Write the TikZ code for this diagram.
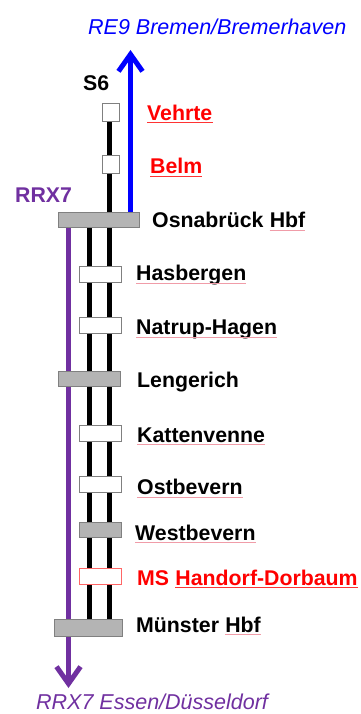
\documentclass[tikz,border=0pt]{standalone}
\usepackage{fontspec}
\setmainfont{Liberation Sans}
\usetikzlibrary{arrows.meta}
\definecolor{rrxpurple}{HTML}{7030A0}
\definecolor{reblue}{HTML}{0000FF}
\definecolor{stred}{HTML}{FF0000}
\definecolor{bargray}{HTML}{B4B4B4}
\definecolor{edgegray}{HTML}{808080}
\definecolor{ulpink}{HTML}{F09CA8}
\tikzset{
  lbl/.style={anchor=west, inner sep=0pt, text height=15.2pt, text depth=0pt, font=\bfseries\fontsize{21.3}{22}\selectfont},
  dirlbl/.style={anchor=west, inner sep=0pt, text height=15.2pt, text depth=0pt, font=\itshape\fontsize{21.5}{22}\selectfont},
  track/.style={line width=5pt, black},
  wbox/.style={draw=edgegray, line width=0.8pt, fill=white},
  gbar/.style={draw=edgegray, line width=0.8pt, fill=bargray},
  ulp/.style={color=ulpink, line width=0.9pt},
  ulr/.style={color=stred!80, line width=0.9pt},
}
\begin{document}
\begin{tikzpicture}[x=1pt,y=-1pt]
\useasboundingbox (0,0) rectangle (360,714);
% coordinates for track ends
\coordinate (s6top) at (109.5,112);
\coordinate (l2top) at (89.5,220);
\coordinate (purtop) at (68.5,220);
\coordinate (blueend) at (130.5,50);
\coordinate (purend) at (68.5,688);
% tracks
\draw[track] (s6top) -- (109.5,627);
\draw[track] (l2top) -- (89.5,627);
\draw[line width=5pt, rrxpurple, -{Straight Barb[length=17pt,width=24pt,line width=5pt]}] (purtop) -- (purend);
\draw[line width=5pt, reblue, -{Straight Barb[length=17pt,width=24pt,line width=5pt]}] (130.5,219) -- (blueend);
% S6 stations
\node[wbox, minimum width=17pt, minimum height=18pt, inner sep=0pt] (vehrte) at (110.5,112.5) {};
\node[wbox, minimum width=17pt, minimum height=18pt, inner sep=0pt] (belm) at (110.5,164.5) {};
% bars and boxes
\node[gbar, minimum width=81pt, minimum height=15pt, inner sep=0pt] (osn) at (98.5,219.5) {};
\node[wbox, minimum width=42pt, minimum height=16pt, inner sep=0pt] (hasb) at (100,274.5) {};
\node[wbox, minimum width=42pt, minimum height=16pt, inner sep=0pt] (natr) at (100,325.5) {};
\node[gbar, minimum width=62pt, minimum height=15pt, inner sep=0pt] (leng) at (89,378.5) {};
\node[wbox, minimum width=42pt, minimum height=16pt, inner sep=0pt] (katt) at (100,433) {};
\node[wbox, minimum width=42pt, minimum height=16pt, inner sep=0pt] (ostb) at (100,484) {};
\node[gbar, minimum width=42pt, minimum height=15pt, inner sep=0pt] (westb) at (100,529.5) {};
\node[wbox, draw=stred!60, minimum width=42pt, minimum height=16pt, inner sep=0pt] (msh) at (100,576) {};
\node[gbar, minimum width=68pt, minimum height=17pt, inner sep=0pt] (mue) at (88,627.5) {};
% labels
\node[dirlbl, text=reblue] (re9) at (88,27) {RE9 Bremen/Bremerhaven};
\node[lbl] (s6) at (83,83) {S6};
\node[lbl, text=stred] (tveh) at (147,112.5) {Vehrte};
\node[lbl, text=stred] (tbel) at (150,166) {Belm};
\node[lbl, text=rrxpurple] (rrx) at (15,195) {RRX7};
\node[lbl] (tosn) at (152,220) {Osnabrück};
\node[lbl, xshift=5.9pt] (tosnh) at (tosn.east) {Hbf};
\node[lbl] (thas) at (136,273) {Hasbergen};
\node[lbl] (tnat) at (136,327) {Natrup-Hagen};
\node[lbl] (tlen) at (137,380) {Lengerich};
\node[lbl] (tkat) at (137,434.5) {Kattenvenne};
\node[lbl] (tost) at (137,487) {Ostbevern};
\node[lbl] (twes) at (135,532.5) {Westbevern};
\node[lbl, text=stred] (tms) at (137,577.5) {MS};
\node[lbl, text=stred, xshift=5.9pt] (tmsh) at (tms.east) {Handorf-Dorbaum};
\node[lbl] (tmue) at (136,624.5) {Münster};
\node[lbl, xshift=5.9pt] (tmueh) at (tmue.east) {Hbf};
\node[dirlbl, text=rrxpurple] (rrxd) at (36,702) {RRX7 Essen/Düsseldorf};
% underlines
\foreach \n in {tosnh,thas,tnat,tkat,tost,twes,tmueh}
  \draw[ulp] ([yshift=-2.5pt]\n.south west) -- ([yshift=-2.5pt]\n.south east);
\foreach \n in {tveh,tbel,tmsh}
  \draw[ulr] ([yshift=-2.5pt]\n.south west) -- ([yshift=-2.5pt]\n.south east);
\end{tikzpicture}
\end{document}
